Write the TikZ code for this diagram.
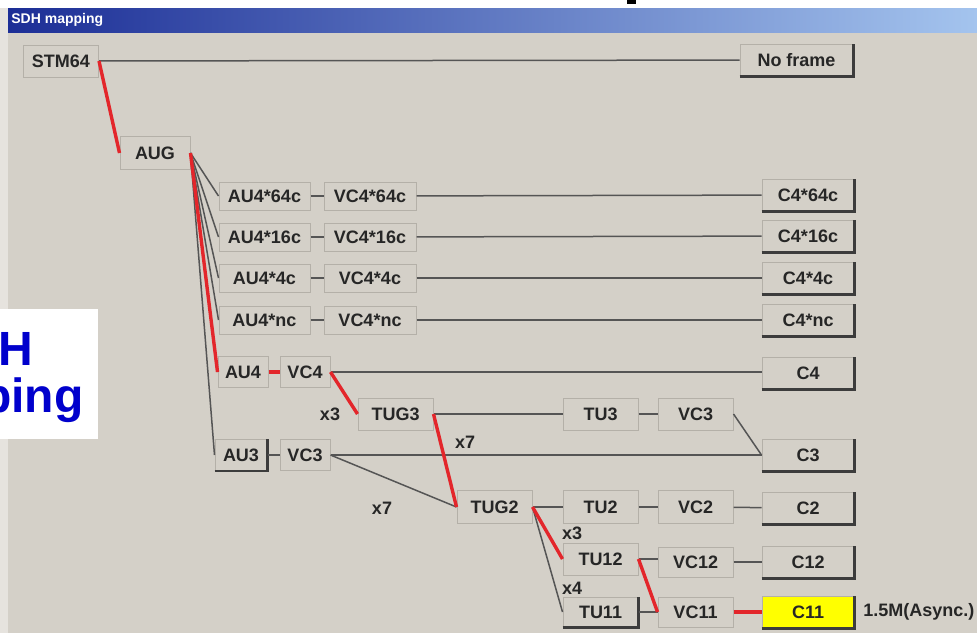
\documentclass[tikz,border=0pt]{standalone}
\usepackage{fontspec}
\setsansfont{Liberation Sans}
\usetikzlibrary{positioning}
\definecolor{sdhpanel}{HTML}{D4D0C8}
\definecolor{sdhmargin}{HTML}{E6E3DE}
\definecolor{sdhedge}{HTML}{B4B0A8}
\definecolor{sdhshade}{HTML}{3C3C3C}
\definecolor{sdhline}{HTML}{555555}
\definecolor{sdhred}{HTML}{E3262B}
\definecolor{sdhyellow}{HTML}{FFFF00}
\definecolor{sdhtitlea}{HTML}{1C2E96}
\definecolor{sdhtitleb}{HTML}{A4C4EE}
\definecolor{sdhblue}{HTML}{0000CC}
\tikzset{
  cell/.style={rectangle, draw=sdhedge, fill=sdhpanel, line width=0.5pt,
               font=\sffamily\bfseries\fontsize{9}{10}\selectfont, text=black!85,
               minimum height=15pt, inner sep=1pt},
  cellw/.style={cell, minimum width=37.5pt},
  cellx/.style={cell, minimum width=46pt},
  cellsm/.style={cell, minimum width=25pt},
  btn/.style={cellx, minimum height=16pt},
  btnedge/.style={draw=sdhshade, line width=1.1pt},
  lnk/.style={draw=sdhline, line width=0.75pt},
  lnkr/.style={draw=sdhred, line width=1.7pt},
  mult/.style={font=\sffamily\bfseries\fontsize{9}{10}\selectfont, text=black!85, inner sep=0pt},
  bigword/.style={font=\sffamily\bfseries\fontsize{24}{28}\selectfont, text=sdhblue, inner sep=0pt},
}
\begin{document}
\begin{tikzpicture}[x=0.5pt, y=-0.5pt]
  \useasboundingbox (0,0) rectangle (977,633);
  % window
  \fill[white] (0,0) rectangle (977,633);
  \fill[black] (627,0) rectangle (636,4);
  \fill[sdhmargin] (0,8) rectangle (8,633);
  \fill[sdhpanel] (8,32) rectangle (977,633);
  \shade[left color=sdhtitlea, right color=sdhtitleb] (8,8) rectangle (977,32);
  \node[anchor=west, inner sep=0pt, text=white, font=\sffamily\bfseries\fontsize{7}{8}\selectfont] (title) at (11,20) {SDH mapping};

  % top level
  \node[cellw, minimum height=16pt] (stm) at (61,61) {STM64};
  \node[cell, minimum width=56.5pt, minimum height=16pt] (nofr) at (796.5,60) {No frame};
  \node[cell, minimum width=35pt, minimum height=16.5pt] (aug) at (155,153) {AUG};
  \draw[lnk] (stm) -- (nofr);
  \draw[lnkr] (stm.east) -- (aug.west);

  % AU4 concatenations
  \node[cell, minimum width=45.5pt, minimum height=14pt] (au64) at (264.5,196) {AU4*64c};
  \node[cellx, minimum height=14pt, right=6.5pt of au64] (vc64) {VC4*64c};
  \node[btn] (c64) at (808,195) {C4*64c};
  \node[cell, minimum width=45.5pt, minimum height=14pt] (au16) at (264.5,237) {AU4*16c};
  \node[cellx, minimum height=14pt, right=6.5pt of au16] (vc16) {VC4*16c};
  \node[btn] (c16) at (808,236) {C4*16c};
  \node[cell, minimum width=45.5pt, minimum height=14pt] (au4c) at (264.5,278) {AU4*4c};
  \node[cellx, minimum height=14pt, right=6.5pt of au4c] (vc4c) {VC4*4c};
  \node[btn] (c4c) at (808,278) {C4*4c};
  \node[cell, minimum width=45.5pt, minimum height=14pt] (aunc) at (264.5,320) {AU4*nc};
  \node[cellx, minimum height=14pt, right=6.5pt of aunc] (vcnc) {VC4*nc};
  \node[btn] (cnc) at (808,320) {C4*nc};

  % AU4 / AU3
  \node[cellsm, minimum height=15.5pt] (au4) at (243,372) {AU4};
  \node[cellsm, minimum height=15.5pt] (vc4) at (305,372) {VC4};
  \node[btn] (c4) at (808,373) {C4};
  \node[cell, minimum width=26pt, minimum height=15.5pt] (au3) at (241,455) {AU3};
  \node[cellsm, minimum height=15.5pt] (vc3) at (305,455) {VC3};
  \node[btn] (c3) at (808,455) {C3};

  % TUG3 / TUG2 branch
  \node[cellw, minimum height=16pt] (tug3) at (395.5,414) {TUG3};
  \node[cellw, minimum height=16pt] (tu3) at (600.5,414) {TU3};
  \node[cellw, minimum height=16pt] (vc3a) at (695.5,414) {VC3};
  \node[cellw, minimum height=16.5pt] (tug2) at (494.5,507) {TUG2};
  \node[cellw, minimum height=16.5pt] (tu2) at (600.5,507) {TU2};
  \node[cellw, minimum height=16.5pt] (vc2) at (695.5,507) {VC2};
  \node[btn] (c2) at (808,508) {C2};
  \node[cellw, minimum height=16pt] (tu12) at (600.5,559) {TU12};
  \node[cellw] (vc12) at (695.5,562) {VC12};
  \node[btn] (c12) at (808,562) {C12};
  \node[cellw] (tu11) at (600.5,612) {TU11};
  \node[cellw] (vc11) at (695.5,612) {VC11};
  \node[btn, fill=sdhyellow] (c11) at (808,612) {C11};
  \node[mult, anchor=west] (async) at (863,612) {1.5M(Async.)};

  % 3d edges of buttons
  \foreach \n in {nofr,c64,c16,c4c,cnc,c4,c3,c2,c12,c11,au3,tu11}
    \draw[btnedge] (\n.south west) -- (\n.south east) -- (\n.north east);

  % AUG fan
  \foreach \n in {au64,au16,au4c,aunc,au3}
    \draw[lnk] (aug.east) -- (\n.west);
  \draw[lnk] (aug.east) -- (au4.west);
  \draw[lnkr] (aug.east) -- (au4.west);

  % rows to containers
  \foreach \a/\v/\c in {au64/vc64/c64, au16/vc16/c16, au4c/vc4c/c4c, aunc/vcnc/cnc}{
    \draw[lnk] (\a) -- (\v);
    \draw[lnk] (\v) -- (\c);
  }
  \draw[lnkr] (au4) -- (vc4);
  \draw[lnk] (vc4.east) -- (vc4.east -| c4.west);
  \draw[lnkr] (vc4.east) -- (tug3.west);
  \draw[lnk] (au3) -- (vc3);
  \draw[lnk] (vc3.east) -- (vc3.east -| c3.west);
  \draw[lnk] (vc3.east) -- (tug2.west);

  % TUG3
  \draw[lnk] (tug3) -- (tu3);
  \draw[lnk] (tu3) -- (vc3a);
  \draw[lnk] (vc3a.east) -- (c3.west);
  \draw[lnkr] (tug3.east) -- (tug2.west);

  % TUG2
  \draw[lnk] (tug2) -- (tu2);
  \draw[lnk] (tu2) -- (vc2);
  \draw[lnk] (vc2) -- (c2);
  \draw[lnk] (tug2.east) -- (tu11.west);
  \draw[lnkr] (tug2.east) -- (tu12.west);
  \draw[lnk] (tu12.east) -- (tu12.east -| vc12.west);
  \draw[lnk] (vc12) -- (c12);
  \draw[lnk] (tu11) -- (vc11);
  \draw[lnkr] (tu12.east) -- (vc11.west);
  \draw[lnkr] (vc11) -- (c11);

  % multiplex factors
  \node[mult] (m3a) at (330,414) {x3};
  \node[mult] (m7a) at (465,442) {x7};
  \node[mult] (m7b) at (382,508) {x7};
  \node[mult] (m3b) at (572,533) {x3};
  \node[mult] (m4) at (572,588) {x4};

  % slide title overlay
  \fill[white] (0,309) rectangle (98,439);
  \node[bigword, anchor=base east] (hword) at (34,365) {H};
  \node[bigword, anchor=base east] (pword) at (84,412) {ping};
\end{tikzpicture}
\end{document}
